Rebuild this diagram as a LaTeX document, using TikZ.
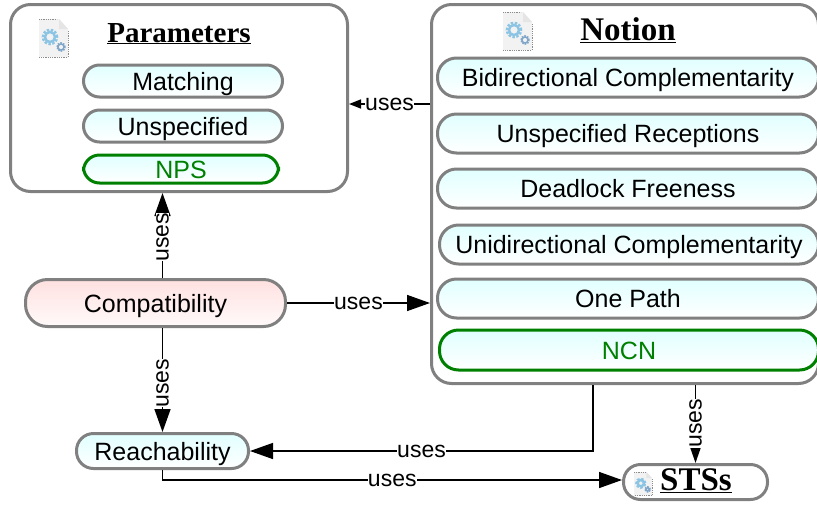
\documentclass[tikz,border=0pt]{standalone}
\usepackage{fontspec}
\setmainfont{Liberation Sans}
\newfontfamily\headfont{Liberation Serif}
\usetikzlibrary{positioning,arrows.meta}
\definecolor{boxgray}{HTML}{808080}
\definecolor{okgreen}{HTML}{008000}
\definecolor{gearblue}{HTML}{8CC4E4}
\definecolor{gearslate}{HTML}{7FA6C8}
\tikzset{
    gearicon/.pic={
        \fill[black!5] (0,0) -- (20,0) -- (29,10) -- (29,38) -- (0,38) -- cycle;
        \draw[black!45, densely dotted, line width=0.8pt] (0,0) -- (18,0) (29,12) -- (29,38) -- (0,38);
        \fill[black!10] (20,0) -- (20,10) -- (29,10) -- cycle;
        \draw[gearblue, line width=2.6pt, dash pattern=on 2.4pt off 1.5pt] (11,18) circle (7pt);
        \draw[gearblue, line width=2.4pt] (11,18) circle (5pt);
        \draw[gearslate, line width=1.6pt, dash pattern=on 1.6pt off 1pt] (22,28) circle (4pt);
        \draw[gearslate, line width=1.4pt] (22,28) circle (3pt);
    }
}
\begin{document}
\begin{tikzpicture}[
                x=1pt, y=-1pt,
                outerbox/.style={rectangle, rounded corners=20pt, draw=boxgray, line width=3pt, fill=white},
                bluenode/.style={rectangle, draw=boxgray, line width=3pt, top color=cyan!12, bottom color=white,
                    text height=18pt, text depth=0pt, font=\fontsize{25}{27}\selectfont},
                greennode/.style={bluenode, draw=okgreen, text=okgreen},
                smallpill/.style={minimum width=199pt, minimum height=32pt, rounded corners=16pt},
                widepill/.style={minimum width=381pt, minimum height=39pt, rounded corners=19pt},
                headtext/.style={anchor=base, inner sep=0pt, font=\headfont\bfseries\fontsize{29}{32}\selectfont},
                bighead/.style={headtext, font=\headfont\bfseries\fontsize{33}{36}\selectfont},
                usestext/.style={fill=white, inner sep=0pt, font=\fontsize{23}{27}\selectfont},
                usesline/.style={-{Triangle[length=23pt,width=16pt]}, line width=1.5pt},
            ]
            \useasboundingbox (0,0) rectangle (817,507);
            %Nodes
            \node[outerbox, minimum width=337pt, minimum height=187pt] (params) at (179,98) {};
            \node[outerbox, minimum width=387pt, minimum height=379pt] (notion) at (625,194) {};
            \node[headtext] (paramshead) at (179,42) {\underline{Parameters}};
            \node[bighead] (notionhead) at (628,40) {\underline{Notion}};
            \node[bluenode, smallpill] (matching) at (183,81) {Matching};
            \node[bluenode, smallpill] (unspec) [below=10pt of matching] {Unspecified};
            \node[greennode, smallpill, minimum width=195pt, minimum height=28pt] (nps) [below=10pt of unspec, xshift=-2pt] {NPS};
            \node[bluenode, widepill] (bidir) at (628,77.5) {Bidirectional Complementarity};
            \node[bluenode, widepill] (recept) [below=14pt of bidir] {Unspecified Receptions};
            \node[bluenode, widepill] (deadlock) [below=13pt of recept] {Deadlock Freeness};
            \node[bluenode, widepill, minimum width=379pt] (unidir) [below=14pt of deadlock, xshift=1pt] {Unidirectional Complementarity};
            \node[bluenode, widepill] (onepath) [below=12pt of unidir, xshift=-1pt] {One Path};
            \node[greennode, widepill, minimum width=379pt, minimum height=40pt] (ncn) [below=9pt of onepath, xshift=1pt] {NCN};
            \node[bluenode, minimum width=260pt, minimum height=47pt, rounded corners=22pt,
                top color=red!12, bottom color=red!2] (compat) at (155.5,303) {Compatibility};
            \node[bluenode, minimum width=172pt, minimum height=35pt, rounded corners=17pt] (reach) at (162.5,451) {Reachability};
            \node[outerbox, minimum width=144pt, minimum height=35pt, rounded corners=17pt] (sts) at (695.5,482) {};
            \node[bighead] (stshead) at (696,490) {\underline{STSs}};
            \pic at (39,19) {gearicon};
            \pic at (503,12) {gearicon};
            \pic[scale=0.62] at (634,472) {gearicon};

            %Lines
            \draw[usesline] (compat.north -| reach.north) -- node[usestext, rotate=90, pos=0.48] (usesa) {uses} (params.south -| reach.north);
            \draw[usesline] (compat.south -| reach.north) -- node[usestext, rotate=90, pos=0.53] (usesb) {uses} (reach.north);
            \draw[usesline] (compat.east) -- node[usestext] (usesc) {uses} (compat.east -| notion.west);
            \draw[usesline, -{Triangle[length=12pt,width=9pt]}] ([yshift=-6pt]params.east -| notion.west) -- node[usestext] (usesd) {uses} ([yshift=-6pt]params.east);
            \draw[usesline] ([xshift=-32pt]notion.south) |- node[usestext, pos=0.75] (usese) {uses} (reach.east);
            \draw[usesline] (reach.south) |- node[usestext, pos=0.75] (usesf) {uses} ([yshift=2pt]sts.west);
            \draw[usesline, -{Triangle[length=15pt,width=10pt]}] (notion.south -| sts.north) -- node[usestext, rotate=90, pos=0.49] (usesg) {uses} (sts.north);
\end{tikzpicture}
\end{document}
